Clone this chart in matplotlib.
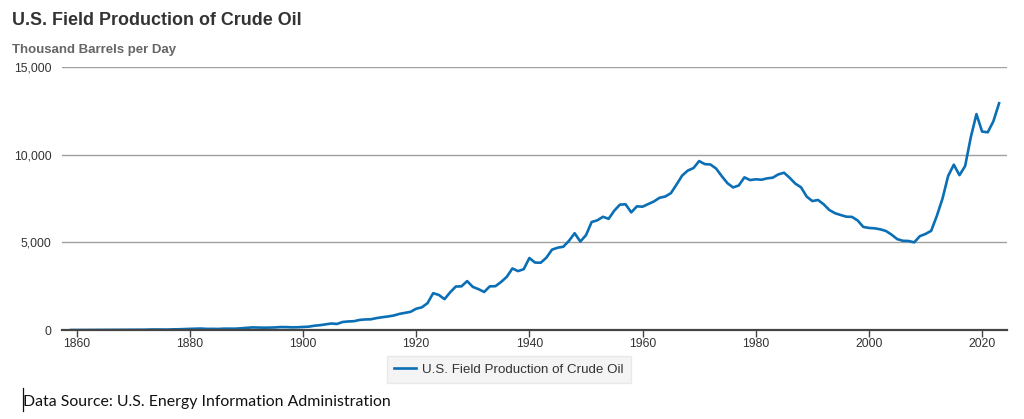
import matplotlib.pyplot as plt
from matplotlib.lines import Line2D

years = list(range(1859, 2024))

# thousand barrels per day (EIA series)
prod_1859_1899 = [0, 1, 6, 8, 7, 6, 7, 10, 9, 10, 12, 14, 14, 17, 27, 30, 25, 25, 37, 42,
                  55, 72, 75, 83, 64, 66, 60, 77, 77, 76, 96, 125, 148, 139, 133, 136,
                  146, 167, 166, 152, 157]
prod_1900_1939 = [174, 191, 244, 275, 320, 370, 346, 457, 488, 503, 574, 602, 611, 680,
                  729, 771, 824, 917, 974, 1037, 1214, 1294, 1531, 2100, 2000, 1760, 2150,
                  2480, 2490, 2790, 2460, 2332, 2170, 2490, 2500, 2740, 3030, 3510, 3360,
                  3470]
prod_1940_1979 = [4107, 3847, 3837, 4125, 4584, 4695, 4751, 5088, 5520, 5046, 5407, 6158,
                  6256, 6458, 6342, 6807, 7151, 7170, 6710, 7054, 7035, 7183, 7332, 7542,
                  7614, 7804, 8295, 8810, 9096, 9238, 9637, 9463, 9441, 9208, 8774, 8375,
                  8132, 8245, 8707, 8552]
prod_1980_2023 = [8597, 8572, 8649, 8688, 8879, 8971, 8680, 8349, 8140, 7613, 7355, 7417,
                  7171, 6847, 6662, 6560, 6465, 6452, 6252, 5881, 5822, 5801, 5744, 5649,
                  5441, 5184, 5088, 5077, 5000, 5353, 5479, 5658, 6508, 7494, 8789, 9431,
                  8832, 9352, 10991, 12315, 11318, 11278, 11911, 12935]
production = prod_1859_1899 + prod_1900_1939 + prod_1940_1979 + prod_1980_2023

x_ticks = [1860, 1880, 1900, 1920, 1940, 1960, 1980, 2000, 2020]
y_ticks = [0, 5000, 10000, 15000]
y_labels = ['0', '5,000', '10,000', '15,000']

plt.rcParams['font.family'] = ['Liberation Sans', 'DejaVu Sans']

fig = plt.figure(figsize=(10.24, 4.19), dpi=100)
ax = fig.add_axes([0.0605, 0.2124, 0.9229, 0.6276])

ax.plot(years, production, color='#0b6fb5', lw=1.9,
        label='U.S. Field Production of Crude Oil', solid_joinstyle='round')

ax.set_xlim(1857.4, 2024.4)
ax.set_ylim(0, 15000)
ax.set_xticks(x_ticks)
ax.set_yticks(y_ticks)
ax.set_yticklabels(y_labels)
ax.grid(axis='y', color='#a0a0a0', lw=1)
ax.set_axisbelow(True)
for side in ['top', 'right', 'left']:
    ax.spines[side].set_visible(False)
ax.spines['bottom'].set_color('#444444')
ax.spines['bottom'].set_linewidth(1.6)
ax.tick_params(axis='x', length=5, width=1, color='#444444', labelsize=8.8,
               labelcolor='#333333', pad=1)
ax.tick_params(axis='y', length=0, labelsize=8.8, labelcolor='#333333', pad=7.5)

fig.text(0.012, 0.94, 'U.S. Field Production of Crude Oil', fontsize=12.9,
         fontweight='bold', color='#333333')
fig.text(0.012, 0.873, 'Thousand Barrels per Day', fontsize=9.5,
         fontweight='bold', color='#666666')

leg = fig.legend(loc='upper center', bbox_to_anchor=(0.497, 0.166), frameon=True,
                 fontsize=9.6, handlelength=1.6, handletextpad=0.5,
                 borderpad=0.55, fancybox=False)
leg.get_frame().set_facecolor('#f2f2f2')
leg.get_frame().set_edgecolor('#e6e6e6')
for t in leg.get_texts():
    t.set_color('#333333')

fig.text(0.022, 0.03, 'Data Source: U.S. Energy Information Administration',
         fontsize=11.4, family=['Lato', 'DejaVu Sans'], color='#111111')
fig.add_artist(Line2D([0.0225, 0.0225], [0.02, 0.075], color='#111111', lw=0.9))

fig.savefig('out.png', dpi=100)
